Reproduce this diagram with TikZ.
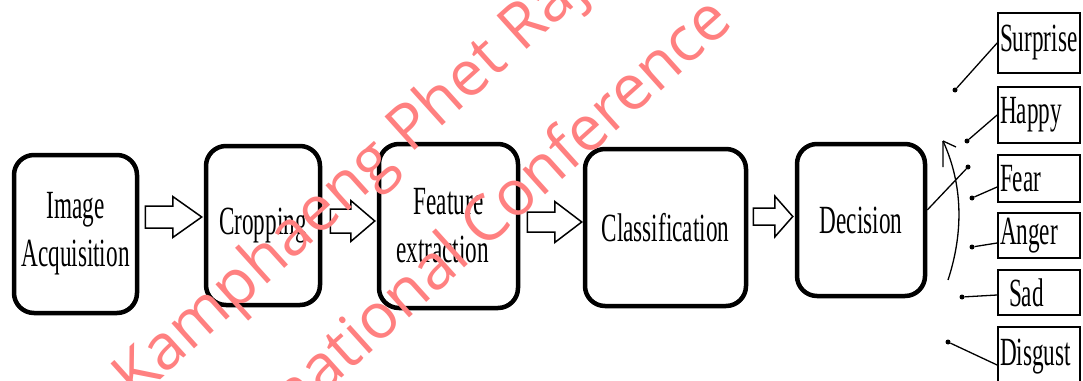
\documentclass[tikz,border=0pt]{standalone}
\usepackage{fontspec}
\setmainfont{Liberation Serif}
\newfontfamily\wmfont{Open Sans}
\usetikzlibrary{calc,arrows.meta}
\definecolor{wmred}{RGB}{255,128,128}
\newcommand\sq[1]{\scalebox{0.58}[1]{#1}}
\begin{document}
\begin{tikzpicture}[x=1pt,y=-1pt,
  stage/.style={draw, line width=4.5pt, rounded corners=20pt, align=center,
    inner sep=0pt, font=\fontsize{40}{48}\selectfont},
  emo/.style={draw, line width=1.8pt, minimum width=82pt, inner xsep=2pt,
    inner ysep=0pt, text width=78pt, align=left, font=\fontsize{40}{48}\selectfont},
  dot/.style={circle, fill=black, inner sep=0pt, minimum size=5pt},
  thin/.style={line width=1.3pt},
  barrow/.style 2 args={draw=black, line width=1.5pt, fill=white,
    to path={let \p1=(\tikztostart), \p2=(\tikztotarget) in
      (\x1,\y1+#1) -- (\x2-#2,\y1+#1) -- (\x2-#2,\y1+20.5pt) -- (\x2,\y1)
      -- (\x2-#2,\y1-20.5pt) -- (\x2-#2,\y1-#1) -- (\x1,\y1-#1) -- cycle}},
  wm/.style={text=wmred, rotate=42, anchor=base west, inner sep=0pt,
    font=\wmfont\fontsize{63}{63}\selectfont}
]
\useasboundingbox (0,0) rectangle (1083,380);
\fill[white] (0,0) rectangle (1083,380);

% stages
\node[stage, minimum width=123pt, minimum height=158pt] (A) at (75.5,234) {\sq{Image}\\\sq{Acquisition}};
\node[stage, minimum width=114pt, minimum height=159pt] (B) at (263,225.5) {\sq{Cropping}};
\node[stage, minimum width=139pt, minimum height=164pt] (C) at (448.5,226) {\sq{Feature}\\\sq{extraction}\hspace*{12pt}};
\node[stage, minimum width=161pt, minimum height=157pt] (D) at (665.5,227.5) {\sq{Classification}};
\node[stage, minimum width=128pt, minimum height=152pt] (E) at (861,220) {\sq{Decision}};

% block arrows
\path (A.east |- 0,217) ++(6,0) coordinate (a1s);
\path (B.west |- 0,217) ++(-2,0) coordinate (a1e);
\path (B.east |- 0,221) ++(8,0) coordinate (a2s);
\path (C.west |- 0,221) ++(-2,0) coordinate (a2e);
\path (C.east |- 0,222) ++(7,0) coordinate (a3s);
\path (D.west |- 0,222) ++(-1,0) coordinate (a3e);
\path (D.east |- 0,216.5) ++(5,0) coordinate (a4s);
\path (E.west |- 0,216.5) ++(-2,0) coordinate (a4e);
\draw[barrow={11pt}{29pt}] (a1s) to (a1e);
\draw[barrow={12pt}{24pt}] (a2s) to (a2e);
\draw[barrow={10pt}{27pt}] (a3s) to (a3e);
\draw[barrow={8.5pt}{18pt}] (a4s) to (a4e);

% emotion boxes
\node[emo, minimum height=60pt] (su) at (1039,43) {\sq{Surprise}};
\node[emo, minimum height=56pt] (ha) at (1039,115) {\sq{Happy}};
\node[emo, minimum height=47pt] (fe) at (1039,178.5) {\sq{Fear}};
\node[emo, minimum height=45pt] (an) at (1039,235.5) {\sq{Anger}};
\node[emo, minimum height=45pt] (sa) at (1039,292.5) {\hspace*{9pt}\sq{Sad}};
\node[emo, minimum height=60pt] (di) at (1039,357) {\sq{Disgust}};

% dots
\node[dot] (dsu) at (955,90) {};
\node[dot] (dha) at (967,141) {};
\node[dot] (dde) at (968,167) {};
\node[dot] (dfe) at (972,198) {};
\node[dot] (dan) at (972,247) {};
\node[dot] (dsa) at (962,297) {};
\node[dot] (ddi) at (948,342) {};

\draw[thin] (su.west) -- (dsu);
\draw[thin] (ha.west) -- (dha);
\draw[thin] ([yshift=10pt]E.east) -- (dde);
\draw[thin] ([yshift=-8.5pt]fe.west) -- (dfe);
\draw[thin] ([yshift=-7.5pt]an.west) -- (dan);
\draw[thin] ([yshift=-2.5pt]sa.west) -- (dsa);
\draw[thin] ([yshift=-8pt]di.west) -- (ddi);

% selector arc
\coordinate (cs) at (948,280);
\coordinate (ce) at (943,141);
\draw[thin] (cs) .. controls (966,225) and (960,178) .. (ce);
\draw[thin] (ce) -- ++(0,26) (ce) -- ++(13,6);

% watermark
\begin{scope}
\clip (0,0) rectangle (1083,380);
\node[wm] (w1) at (136,402) {Kamphaeng Phet Rajabhat University};
\node[wm] (w2) at (190,515) {International Conference};
\end{scope}
\end{tikzpicture}
\end{document}
